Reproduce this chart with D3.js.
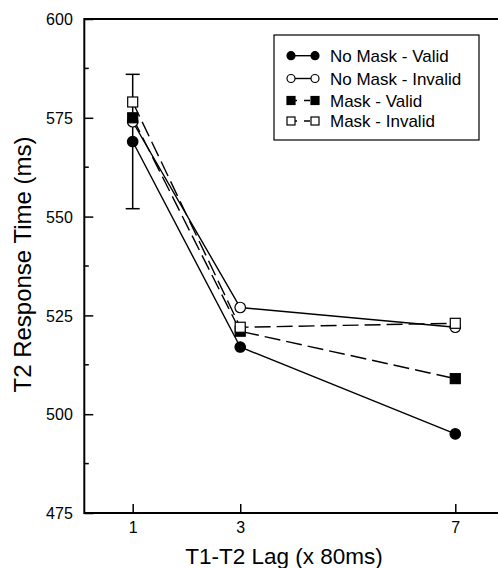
<!DOCTYPE html>
<html>
<head>
<meta charset="utf-8">
<script src="https://cdn.jsdelivr.net/npm/d3@7"></script>
<style>
  body { margin: 0; background: #fff; }
  svg { display: block; }
  text { font-family: "Liberation Sans", Arial, Helvetica, sans-serif; fill: #000; }
</style>
</head>
<body>
<svg id="chart" width="498" height="568"></svg>
<script>
// ---- data ----
const lags = [1, 3, 7];
const seriesNames = ["No Mask - Valid", "No Mask - Invalid", "Mask - Valid", "Mask - Invalid"];
const noMaskValid   = [569, 517, 495];
const noMaskInvalid = [574, 527, 522];
const maskValid     = [575, 521, 509];
const maskInvalid   = [579, 522, 523];
const errorBar = { lag: 1, low: 552, high: 586 };
const yTicks = [475, 500, 525, 550, 575, 600];
const yMinorTicks = [487.5, 512.5, 537.5, 562.5, 587.5];
const xTicks = [1, 3, 7];

const series = [
  { name: seriesNames[0], values: noMaskValid,   shape: "circle", filled: true,  dashed: false },
  { name: seriesNames[1], values: noMaskInvalid, shape: "circle", filled: false, dashed: false },
  { name: seriesNames[2], values: maskValid,     shape: "square", filled: true,  dashed: true },
  { name: seriesNames[3], values: maskInvalid,   shape: "square", filled: false, dashed: true }
];

const svg = d3.select("#chart");
const x = d3.scaleLinear().domain([0.1, 7.8]).range([84.3, 498.3]);
const y = d3.scaleLinear().domain([475, 600]).range([513, 19]);

// frame lines (left, top, bottom)
const ax = svg.append("g").attr("stroke", "#000").attr("stroke-width", 2).attr("fill", "none");
ax.append("line").attr("x1", x.range()[0]).attr("x2", x.range()[0]).attr("y1", y(600) - 1).attr("y2", y(475) + 1);
ax.append("line").attr("x1", x.range()[0]).attr("x2", 498).attr("y1", y(600)).attr("y2", y(600));
ax.append("line").attr("x1", x.range()[0]).attr("x2", 498).attr("y1", y(475)).attr("y2", y(475));

// y axis (ticks inward)
const yAxis = d3.axisLeft(y).tickValues(yTicks).tickSize(-9).tickPadding(11.5).tickFormat(d3.format("d"));
const gy = svg.append("g").attr("transform", `translate(${x.range()[0]},0)`).call(yAxis);
gy.select(".domain").remove();
gy.selectAll(".tick line").attr("stroke-width", 1.5);
gy.selectAll(".tick text").style("font-size", "16px").attr("dy", "0.35em");
svg.append("g").selectAll("line").data(yMinorTicks).join("line")
  .attr("x1", x.range()[0]).attr("x2", x.range()[0] + 4.5)
  .attr("y1", d => y(d)).attr("y2", d => y(d))
  .attr("stroke", "#000").attr("stroke-width", 1.5);

// x axis (ticks inward)
const xAxis = d3.axisBottom(x).tickValues(xTicks).tickSize(-9).tickPadding(8.5).tickFormat(d3.format("d"));
const gx = svg.append("g").attr("transform", `translate(0,${y(475)})`).call(xAxis);
gx.select(".domain").remove();
gx.selectAll(".tick line").attr("stroke-width", 1.5);
gx.selectAll(".tick text").style("font-size", "16px");

// axis titles
svg.append("text").attr("x", 284).attr("y", 564).attr("text-anchor", "middle")
  .style("font-size", "22.5px").text("T1-T2 Lag (x 80ms)");
svg.append("text").attr("transform", "translate(31,264.5) rotate(-90)").attr("text-anchor", "middle")
  .style("font-size", "24px").text("T2 Response Time (ms)");

// error bar
const eb = svg.append("g").attr("stroke", "#000").attr("stroke-width", 1.5);
eb.append("line").attr("x1", x(errorBar.lag)).attr("x2", x(errorBar.lag)).attr("y1", y(errorBar.high)).attr("y2", y(errorBar.low));
[errorBar.high, errorBar.low].forEach(v => {
  eb.append("line").attr("x1", x(errorBar.lag) - 7).attr("x2", x(errorBar.lag) + 7).attr("y1", y(v)).attr("y2", y(v));
});

// lines
const line = d3.line().x((d, i) => x(lags[i])).y(d => y(d));
series.forEach(s => {
  svg.append("path").datum(s.values).attr("d", line)
    .attr("fill", "none").attr("stroke", "#000").attr("stroke-width", 1.4)
    .attr("stroke-dasharray", s.dashed ? "16,6" : null);
});

function marker(g, s, cx, cy, size) {
  if (s.shape === "circle") {
    g.append("circle").attr("cx", cx).attr("cy", cy).attr("r", size / 2)
      .attr("fill", s.filled ? "#000" : "#fff").attr("stroke", "#000").attr("stroke-width", 1.2);
  } else {
    g.append("rect").attr("x", cx - size / 2).attr("y", cy - size / 2).attr("width", size).attr("height", size)
      .attr("fill", s.filled ? "#000" : "#fff").attr("stroke", "#000").attr("stroke-width", 1.2);
  }
}

// markers
const mg = svg.append("g");
series.forEach(s => {
  s.values.forEach((v, i) => marker(mg, s, x(lags[i]), y(v), s.shape === "circle" ? 10.5 : 10));
});

// legend
const lg = svg.append("g");
lg.append("rect").attr("x", 274).attr("y", 35).attr("width", 205).attr("height", 105)
  .attr("fill", "#fff").attr("stroke", "#000").attr("stroke-width", 1.2);
const rowY = [55.7, 78.5, 100.5, 121];
series.forEach((s, i) => {
  const yy = rowY[i];
  lg.append("line").attr("x1", 291).attr("x2", 315).attr("y1", yy).attr("y2", yy)
    .attr("stroke", "#000").attr("stroke-width", 1.4)
    .attr("stroke-dasharray", s.dashed ? "6,7" : null);
  marker(lg, s, 291, yy, 8);
  marker(lg, s, 315, yy, 8);
  lg.append("text").attr("x", 330).attr("y", yy).attr("dy", "0.36em")
    .style("font-size", "17px").text(s.name);
});
</script>
</body>
</html>
